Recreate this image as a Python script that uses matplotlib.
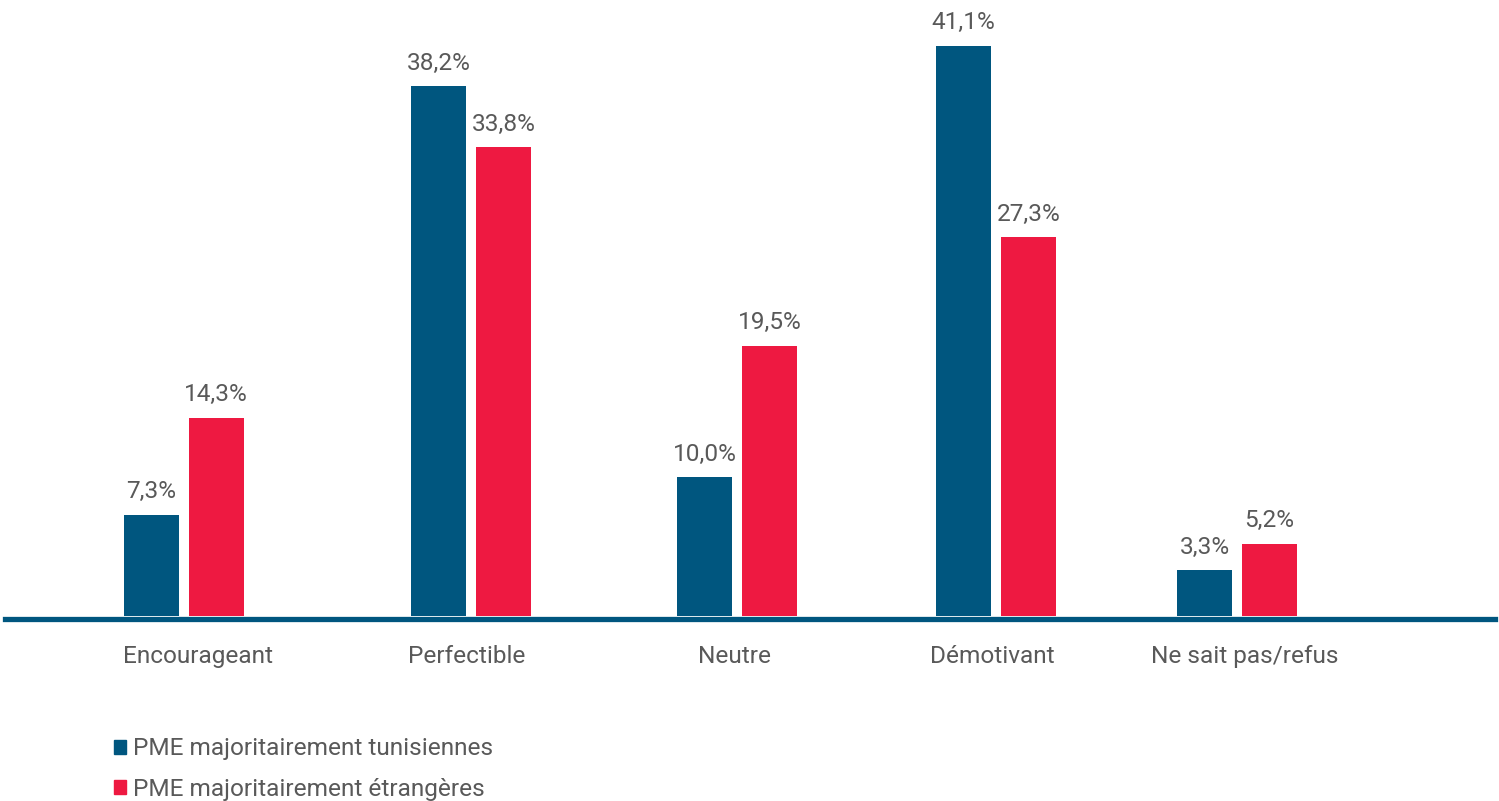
import matplotlib.pyplot as plt
from matplotlib.patches import Patch
import numpy as np

plt.rcParams['font.family'] = ['Roboto', 'DejaVu Sans']

# Données
categories = ["Encourageant", "Perfectible", "Neutre", "Démotivant", "Ne sait pas/refus"]
tunisiennes = [7.3, 38.2, 10.0, 41.1, 3.3]
etrangeres = [14.3, 33.8, 19.5, 27.3, 5.2]
series_labels = ["PME majoritairement tunisiennes", "PME majoritairement étrangères"]

# Mise en page (pixels depuis le bord gauche des axes)
group_pos = np.array([178.5, 466, 732, 991, 1232])
label_pos = np.array([193, 462, 730, 987, 1240])
width = 55
off = 32.5

BLUE = "#00567F"
RED = "#EE1941"
GRAY = "#595959"
FS = 17.6
PX_PER_PCT = 13.87

fig = plt.figure(figsize=(14.99, 8.01), dpi=100)
ax = fig.add_axes([5 / 1499, (801 - 619) / 801, 1490 / 1499, 619 / 801])

b1 = ax.bar(group_pos - off, tunisiennes, width, color=BLUE, zorder=2)
b2 = ax.bar(group_pos + off, etrangeres, width, color=RED, zorder=2)

for bars, vals in ((b1, tunisiennes), (b2, etrangeres)):
    for rect, v in zip(bars, vals):
        ax.annotate(f"{v:.1f}".replace(".", ",") + "%",
                    (rect.get_x() + rect.get_width() / 2, v),
                    xytext=(0, 12), textcoords="offset points",
                    ha="center", va="baseline", fontsize=FS, color=GRAY)

ax.set_xlim(0, 1490)
ax.set_ylim(-3 / PX_PER_PCT, 616 / PX_PER_PCT)

for s in ["top", "right", "left"]:
    ax.spines[s].set_visible(False)
ax.spines["bottom"].set_color(BLUE)
ax.spines["bottom"].set_linewidth(3.8)
ax.spines["bottom"].set_zorder(3)

ax.set_yticks([])
ax.set_xticks(label_pos)
ax.set_xticklabels(categories, fontsize=FS, color=GRAY)
ax.tick_params(axis="x", length=0, pad=19)

handles = [Patch(color=BLUE), Patch(color=RED)]
fig.legend(handles, series_labels, loc="upper left",
           bbox_to_anchor=(114 / 1499, 1 - 737.5 / 801),
           frameon=False, fontsize=FS, labelcolor=GRAY,
           handlelength=0.49, handleheight=0.49, handletextpad=0.29,
           labelspacing=0.71, borderaxespad=0, borderpad=0)

fig.savefig("out.png", dpi=100)
